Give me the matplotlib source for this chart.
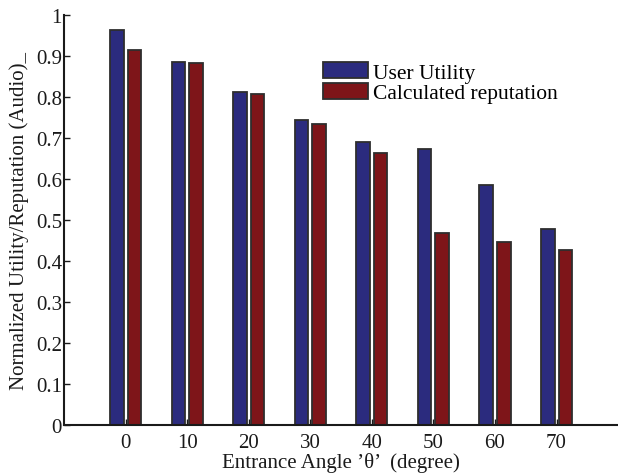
import numpy as np
import matplotlib
matplotlib.use("Agg")
import matplotlib.pyplot as plt

angles = [0, 10, 20, 30, 40, 50, 60, 70]
user_utility = [0.963, 0.885, 0.812, 0.744, 0.690, 0.672, 0.586, 0.478]
calculated_reputation = [0.914, 0.882, 0.807, 0.734, 0.664, 0.468, 0.447, 0.427]
series_names = ["User Utility", "Calculated reputation"]
y_ticks = [0, 0.1, 0.2, 0.3, 0.4, 0.5, 0.6, 0.7, 0.8, 0.9, 1]
y_tick_labels = ["0", "0.1", "0.2", "0.3", "0.4", "0.5", "0.6", "0.7", "0.8", "0.9", "1"]

plt.rcParams["font.family"] = ["Liberation Serif", "DejaVu Serif"]

fig = plt.figure(figsize=(6.18, 4.77), dpi=100)
ax = fig.add_axes([0.1036, 0.107, 0.8966, 0.860])

x = np.array(angles, dtype=float)
width = 2.2
offset = 1.42
blue = "#2b2b7e"
red = "#7e1519"
ax.bar(x - offset, user_utility, width, color=blue, edgecolor="#2e2e2e",
       linewidth=1.3, label=series_names[0], zorder=2)
ax.bar(x + offset, calculated_reputation, width, color=red, edgecolor="#2e2e2e",
       linewidth=1.3, label=series_names[1], zorder=2)

ax.set_xlim(-10, 80)
ax.set_ylim(0, 1)
ax.set_xticks(angles)
ax.set_xticklabels([str(a) for a in angles])
ax.set_yticks(y_ticks)
ax.set_yticklabels(y_tick_labels)

for side in ("top", "right"):
    ax.spines[side].set_visible(False)
for side in ("left", "bottom"):
    ax.spines[side].set_linewidth(1.5)
    ax.spines[side].set_color("#1a1a1a")

ax.tick_params(axis="both", direction="in", length=4, width=1.0,
               labelsize=15, colors="#1a1a1a")
ax.tick_params(axis="y", pad=1.5)
ax.tick_params(axis="x", pad=6)

ax.set_xlabel("Entrance Angle ’θ’  (degree)", fontsize=15, color="#1a1a1a", labelpad=0)
ax.set_ylabel("Normalized Utility/Reputation (Audio)_", fontsize=15, color="#1a1a1a",
              labelpad=5)

leg = ax.legend(loc="upper left", bbox_to_anchor=(0.4675, 0.885), frameon=False,
                fontsize=15.5, handlelength=2.1, handleheight=0.8, handletextpad=0.2,
                labelspacing=0.0, borderaxespad=0.0, borderpad=0.0)

fig.savefig("out.png", dpi=100)
